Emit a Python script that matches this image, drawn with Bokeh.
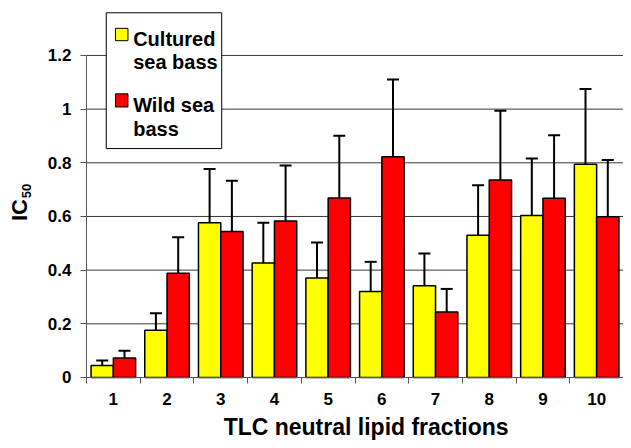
import math
from bokeh.plotting import figure
from bokeh.models import (ColumnDataSource, Range1d, FixedTicker, Whisker, TeeHead, Label)
from bokeh.core.properties import value
from bokeh.embed import file_html
from bokeh.resources import INLINE

# ---- data ----
fractions = [1, 2, 3, 4, 5, 6, 7, 8, 9, 10]
fraction_labels = ["1", "2", "3", "4", "5", "6", "7", "8", "9", "10"]
cultured = [0.045, 0.176, 0.577, 0.427, 0.371, 0.320, 0.342, 0.530, 0.604, 0.795]
cultured_err = [0.018, 0.063, 0.200, 0.150, 0.132, 0.111, 0.120, 0.186, 0.212, 0.280]
wild = [0.073, 0.388, 0.544, 0.583, 0.669, 0.823, 0.244, 0.736, 0.668, 0.599]
wild_err = [0.027, 0.135, 0.189, 0.207, 0.232, 0.287, 0.086, 0.258, 0.235, 0.211]
y_ticks = [0, 0.2, 0.4, 0.6, 0.8, 1.0, 1.2]
y_tick_labels = ["0", "0.2", "0.4", "0.6", "0.8", "1", "1.2"]
series_names = [["Cultured", "sea bass"], ["Wild sea", "bass"]]
series_colors = ["#FFFF00", "#FF0000"]
x_title = "TLC neutral lipid fractions"
y_title_main = "IC"
y_title_sub = "50"

FONT = "Liberation Sans"
BW = 0.415
OFF = BW / 2
X0 = -1.1015          # left edge of the frame (room for the y-axis title)
Y0 = -0.2348          # bottom edge of the frame (room for the x-axis texts)
X_LO, X_HI = 0.5, 10.5

p = figure(width=623, height=440, output_backend="svg", toolbar_location=None,
           x_range=Range1d(X0, X_HI), y_range=Range1d(Y0, 1.375),
           min_border_left=0, min_border_right=0, min_border_top=8, min_border_bottom=0)
p.outline_line_color = None
p.background_fill_color = "white"
p.border_fill_color = "white"

# grid lines drawn only across the plotting area
p.xgrid.grid_line_color = None
p.ygrid.grid_line_color = None
grid_ys = y_ticks[1:]
p.segment(x0=[X_LO] * len(grid_ys), x1=[X_HI] * len(grid_ys), y0=grid_ys, y1=grid_ys,
          line_color="#3a3a3a", line_width=1, level="underlay")

# y axis, fixed at the left edge of the category area
p.yaxis.fixed_location = X_LO
p.yaxis.ticker = FixedTicker(ticks=y_ticks)
p.yaxis.major_label_overrides = {t: l for t, l in zip(y_ticks, y_tick_labels)}
p.yaxis.bounds = (0, 1.2)
p.yaxis.axis_line_color = "#555555"
p.yaxis.major_tick_line_color = "#555555"
p.yaxis.major_tick_out = 6
p.yaxis.major_tick_in = 0
p.yaxis.minor_tick_line_color = None
p.yaxis.major_label_standoff = 9
p.yaxis.major_label_text_font = FONT
p.yaxis.major_label_text_font_style = "bold"
p.yaxis.major_label_text_font_size = "17px"
p.yaxis.major_label_text_color = "black"

# x axis, fixed at y = 0
p.xaxis.fixed_location = 0
p.xaxis.bounds = (X_LO, X_HI)
p.xaxis.ticker = FixedTicker(ticks=fractions, minor_ticks=[f - 0.5 for f in fractions] + [10.5])
p.xaxis.major_label_overrides = {f: l for f, l in zip(fractions, fraction_labels)}
p.xaxis.axis_line_color = "#555555"
p.xaxis.major_tick_line_color = None
p.xaxis.major_tick_out = 6
p.xaxis.major_tick_in = 0
p.xaxis.minor_tick_line_color = "#555555"
p.xaxis.minor_tick_out = 6
p.xaxis.minor_tick_in = 0
p.xaxis.major_label_standoff = 10
p.xaxis.major_label_text_font = FONT
p.xaxis.major_label_text_font_style = "bold"
p.xaxis.major_label_text_font_size = "17px"
p.xaxis.major_label_text_color = "black"

# bars
src_c = ColumnDataSource(dict(x=[f - OFF for f in fractions], top=cultured,
                              lo=[v - e for v, e in zip(cultured, cultured_err)],
                              hi=[v + e for v, e in zip(cultured, cultured_err)]))
src_w = ColumnDataSource(dict(x=[f + OFF for f in fractions], top=wild,
                              lo=[v - e for v, e in zip(wild, wild_err)],
                              hi=[v + e for v, e in zip(wild, wild_err)]))
p.vbar(x="x", top="top", bottom=0, width=BW, source=src_c,
       fill_color=series_colors[0], line_color="black", line_width=1.5)
p.vbar(x="x", top="top", bottom=0, width=BW, source=src_w,
       fill_color=series_colors[1], line_color="black", line_width=1.5)

for src in (src_c, src_w):
    w = Whisker(source=src, base="x", upper="hi", lower="lo", line_color="black", line_width=2,
                upper_head=TeeHead(size=12, line_color="black", line_width=2),
                lower_head=TeeHead(size=12, line_color="black", line_width=2))
    p.add_layout(w)

# legend (manual, Excel-like box)
p.quad(left=[0.868], right=[3.018], top=[1.359], bottom=[0.853],
       fill_color="white", line_color="black", line_width=1)
sw_top = [1.301, 1.057]
sw_bot = [1.255, 1.008]
p.quad(left=[1.039, 1.039], right=[1.272, 1.272], top=sw_top, bottom=sw_bot,
       fill_color=series_colors, line_color="black", line_width=1)
line_y = [[1.260, 1.175], [1.016, 0.927]]
for names, ys in zip(series_names, line_y):
    p.text(x=[1.369, 1.369], y=ys, text=names, text_font=value(FONT),
           text_font_style="bold", text_font_size="20px", text_color="black",
           text_align="left", text_baseline="alphabetic")

# y-axis title: "IC" with subscript "50", rotated
p.add_layout(Label(x=-0.742, y=0.583, text=y_title_main, angle=math.pi / 2,
                   text_font=FONT, text_font_style="bold", text_font_size="22px",
                   text_color="black", text_align="left", text_baseline="alphabetic"))
p.add_layout(Label(x=-0.618, y=0.668, text=y_title_sub, angle=math.pi / 2,
                   text_font=FONT, text_font_style="bold", text_font_size="13px",
                   text_color="black", text_align="left", text_baseline="alphabetic"))

# x-axis title
p.add_layout(Label(x=5.707, y=-0.1863, text=x_title, text_font=FONT, text_font_style="bold",
                   text_font_size="23px", text_color="black", text_align="center",
                   text_baseline="alphabetic"))

open("out.html", "w").write(file_html(p, INLINE))
